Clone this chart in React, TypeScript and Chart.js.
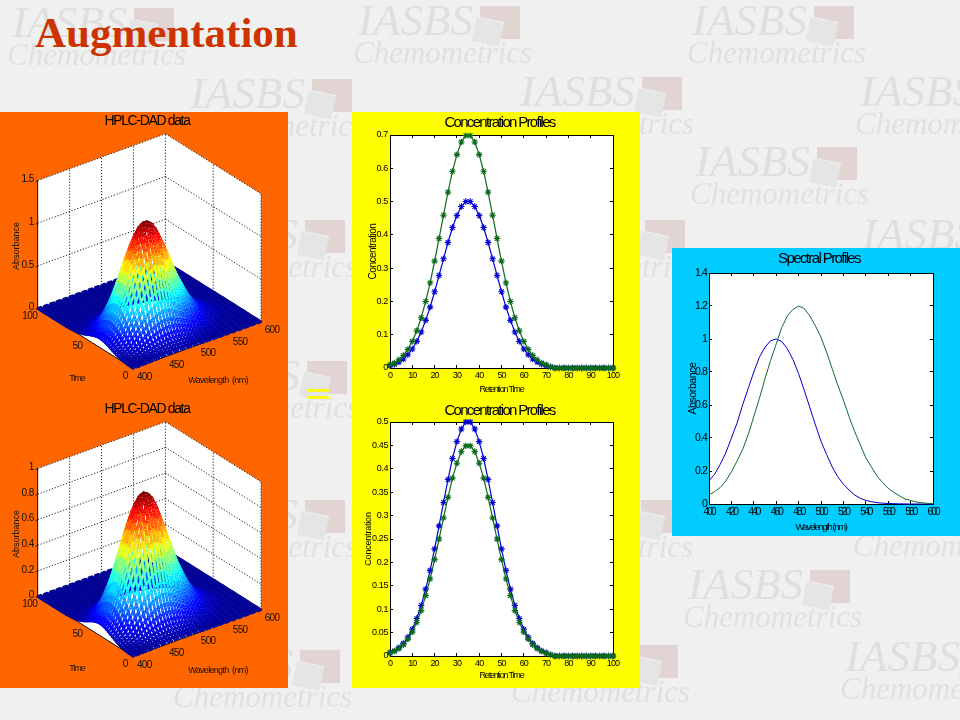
import React, { useEffect, useRef } from "react";
import { Chart, registerables } from "chart.js";

Chart.register(...registerables);

const SANS = '"Liberation Sans", Arial, sans-serif';
const SERIF = '"Liberation Serif", "Times New Roman", serif';

const retentionTimes = [0,2,4,6,8,10,12,14,16,18,20,22,24,26,28,30,32,34,36,38,40,42,44,46,48,50,52,54,56,58,60,62,64,66,68,70,72,74,76,78,80,82,84,86,88,90,92,94,96,98,100];
const wavelengths = [400,405,410,415,420,425,430,435,440,445,450,455,460,465,470,475,480,485,490,495,500,505,510,515,520,525,530,535,540,545,550,555,560,565,570,575,580,585,590,595,600];

const concBlue = [.007,.011,.018,.027,.040,.057,.080,.108,.143,.183,.229,.278,.328,.377,.422,.458,.485,.5,.5,.485,.458,.422,.377,.328,.278,.229,.183,.143,.108,.080,.057,.040,.027,.018,.011,.007,.003,0,0,0,0,0,0,0,0,0,0,0,0,0,0];
const concGreenTop = [.010,.015,.025,.038,.056,.080,.112,.151,.200,.256,.321,.389,.459,.528,.591,.641,.679,.698,.698,.679,.641,.591,.528,.459,.389,.321,.256,.200,.151,.112,.080,.056,.038,.025,.015,.010,.004,0,0,0,0,0,0,0,0,0,0,0,0,0,0];
const concGreenBottom = [.006,.010,.016,.024,.036,.051,.072,.097,.129,.165,.206,.250,.295,.339,.380,.412,.437,.449,.449,.437,.412,.380,.339,.295,.250,.206,.165,.129,.097,.072,.051,.036,.024,.016,.010,.006,.003,0,0,0,0,0,0,0,0,0,0,0,0,0,0];

const specBlue = [.14,.18,.24,.31,.40,.49,.60,.70,.80,.89,.95,.99,1,.985,.94,.875,.79,.69,.585,.48,.38,.30,.225,.165,.12,.085,.055,.035,.022,.014,.008,.005,.003,.002,.001,.0005,0,0,0,0,0];
const specGreen = [.055,.075,.10,.14,.195,.26,.33,.42,.53,.64,.76,.87,.97,1.07,1.14,1.18,1.2,1.185,1.14,1.08,1.01,.92,.82,.72,.63,.53,.44,.36,.28,.225,.17,.13,.095,.07,.05,.03,.022,.012,.008,.004,.002];

const concTicksX = [0,10,20,30,40,50,60,70,80,90,100];
const concTicksTop = [0,.1,.2,.3,.4,.5,.6,.7];
const concTicksBottom = [0,.05,.1,.15,.2,.25,.3,.35,.4,.45,.5];
const specTicksX = [400,420,440,460,480,500,520,540,560,580,600];
const specTicksY = [0,.2,.4,.6,.8,1,1.2,1.4];

const timeTicks = [0,50,100];
const waveTicks = [400,450,500,550,600];
const zTicksTop = [0,.5,1,1.5];
const zTicksBottom = [0,.2,.4,.6,.8,1];

const watermarks = [
  [12,36],[358,34],[692,34],[190,107],[520,105],[860,105],[695,175],
  [183,248],[523,248],[862,248],[185,389],[183,528],[519,528],[858,527],
  [688,598],[178,678],[516,673],[845,670],
];

const BLUE = "#0000d0";
const GREEN = "#0b6b1b";

function tighten(obj: any, method: string, px: number, ctx: any, shift = 0) {
  const f = obj[method];
  obj[method] = function (...a: any[]) {
    ctx.save();
    ctx.translate(shift, 0);
    ctx.letterSpacing = px + "px";
    f.apply(this, a);
    ctx.letterSpacing = "0px";
    ctx.restore();
  };
}

const whitePlot = {
  id: "whitePlot",
  beforeDraw(chart: any) {
    const { left, top, width, height } = chart.chartArea;
    chart.ctx.fillStyle = "#fff";
    chart.ctx.fillRect(left, top, width, height);
  },
};

function axisBase(ticks: number[], min: number, max: number, position: string, size: number, font: number, text?: string, titleFont?: number, titlePad?: any, hidden?: boolean) {
  const horizontal = position === "bottom" || position === "top";
  return {
    type: "linear",
    position,
    min,
    max,
    afterBuildTicks: (s: any) => { s.ticks = ticks.map((value) => ({ value })); },
    afterFit: (s: any) => { if (horizontal) s.height = size; else s.width = size; },
    grid: { drawOnChartArea: false, drawTicks: true, tickLength: -3, tickColor: "#000", tickWidth: 1 },
    border: { display: true, color: "#000", width: 1 },
    ticks: {
      display: !hidden,
      padding: 5,
      autoSkip: false,
      maxRotation: 0,
      minRotation: 0,
      color: "#000",
      font: { family: SANS, size: font },
      callback: (v: any) => String(Math.round(v * 100) / 100),
    },
    title: text
      ? { display: true, text, color: "#000", font: { family: SANS, size: titleFont }, padding: titlePad }
      : { display: false },
  };
}

function makeProfile(canvas: HTMLCanvasElement, o: any) {
  const plot = o.plot;
  const chart: any = new Chart(canvas, {
    type: "scatter",
    data: { datasets: o.datasets },
    options: {
      animation: false,
      responsive: false,
      devicePixelRatio: 1,
      events: [],
      layout: { padding: 0 },
      plugins: {
        legend: { display: false },
        tooltip: { enabled: false },
        title: {
          display: true,
          text: o.title,
          color: "#000",
          fullSize: false,
          font: { family: SANS, size: 15, weight: "normal", lineHeight: 1 },
          padding: { top: 3, bottom: 1 },
        },
      },
      scales: {
        x: axisBase(o.xTicks, o.xTicks[0], o.xTicks[o.xTicks.length - 1], "bottom", 288 - plot.bottom, o.tickFont, o.xTitle, o.xTitleFont, { top: 0, bottom: o.xTitleBottom }),
        y: axisBase(o.yTicks, o.yTicks[0], o.yTicks[o.yTicks.length - 1], "left", plot.left, o.tickFont, o.yTitle, o.yTitleFont, { top: o.yTitleTop, bottom: 0 }),
        x2: axisBase(o.xTicks, o.xTicks[0], o.xTicks[o.xTicks.length - 1], "top", plot.top - 19, o.tickFont, undefined, undefined, undefined, true),
        y2: axisBase(o.yTicks, o.yTicks[0], o.yTicks[o.yTicks.length - 1], "right", 288 - plot.right, o.tickFont, undefined, undefined, undefined, true),
      },
    } as any,
    plugins: [whitePlot],
  });
  const ctx = chart.ctx;
  tighten(chart.titleBlock, "draw", o.headSpacing, ctx, -2);
  tighten(chart.scales.x, "drawTitle", o.xTitleSpacing, ctx);
  tighten(chart.scales.y, "drawTitle", o.yTitleSpacing, ctx);
  tighten(chart.scales.x, "drawLabels", o.xTickSpacing, ctx);
  tighten(chart.scales.y, "drawLabels", o.yTickSpacing, ctx);
  chart.draw();
  return chart;
}

function xy(xs: number[], ys: number[]) {
  return xs.map((x, i) => ({ x, y: ys[i] }));
}

function concDataset(ys: number[], color: string) {
  return {
    data: xy(retentionTimes, ys),
    showLine: true,
    borderColor: color,
    borderWidth: 1.2,
    pointStyle: "star",
    pointRadius: 3.2,
    pointBorderColor: color,
    pointBorderWidth: 1.1,
    clip: false,
  };
}

function specDataset(ys: number[], color: string) {
  return { data: xy(wavelengths, ys), showLine: true, borderColor: color, borderWidth: 1, pointRadius: 0, clip: false };
}

function jet(v: number) {
  const c = (x: number) => Math.round(255 * Math.max(0, Math.min(1, x)));
  const r = 1.5 - Math.abs(4 * v - 3);
  const g = 1.5 - Math.abs(4 * v - 2);
  const b = 1.5 - Math.abs(4 * v - 1);
  return `rgb(${c(r)},${c(g)},${c(b)})`;
}

const floorGeometry = { front: { x: 133.3, y: 256.5 }, left: { x: 37.7, y: 196.5 }, right: { x: 261, y: 209.8 } };

function makeSurface(canvas: HTMLCanvasElement, o: any) {
  const { front, left, right } = floorGeometry;
  const zMax = o.zTicks[o.zTicks.length - 1];
  const zScale = o.wallHeight / zMax;
  const P = (t: number, w: number, z: number) => {
    const u = t / 100;
    const v = (w - 400) / 200;
    return {
      x: front.x + u * (left.x - front.x) + v * (right.x - front.x),
      y: front.y + u * (left.y - front.y) + v * (right.y - front.y) - z * zScale,
    };
  };
  const Z = retentionTimes.map((_, i) => wavelengths.map((_, j) => concBlue[i] * specBlue[j] + o.concGreen[i] * specGreen[j]));
  const peak = Math.max(...Z.map((r) => Math.max(...r)));
  const n = retentionTimes.length;

  const datasets: any[] = [];
  for (let i = 0; i < n; i++) {
    if (i < n - 1) {
      const pts: any[] = [];
      const zs: number[] = [];
      const rs: number[] = [];
      let near = false;
      for (let j = wavelengths.length - 1; j >= 0; j--) {
        const a = near ? i : i + 1;
        const b = near ? i + 1 : i;
        const r = Math.max(0, Z[i + 1][j] - Z[i][j]) / peak;
        pts.push(P(retentionTimes[a], wavelengths[j], Z[a][j]));
        zs.push(Z[a][j]);
        rs.push(r);
        pts.push(P(retentionTimes[b], wavelengths[j], Z[b][j]));
        zs.push(Z[b][j]);
        rs.push(r);
        near = !near;
      }
      datasets.push({
        data: pts,
        showLine: true,
        pointRadius: 0,
        borderWidth: 2.6,
        borderCapStyle: "round",
        borderJoinStyle: "round",
        clip: false,
        order: 2 * i + 1,
        segment: { borderColor: (c: any) => jet((zs[c.p0DataIndex] + zs[c.p1DataIndex]) / 2 / peak * 0.98 + 0.02) },
      });
      // speckled white mesh over the same cells
      datasets.push({
        data: pts,
        showLine: true,
        pointRadius: 0,
        borderWidth: 0.7,
        borderColor: "rgba(255,255,255,0.2)",
        borderDash: [1, 2.2],
        clip: false,
        order: 2 * i + 0.5,
        segment: { borderColor: (c: any) => `rgba(255,255,255,${Math.min(0.75, 0.14 + rs[c.p0DataIndex] * 12)})` },
      });
    }
    // rows: thin arcs, solid and whiter where the surface rises towards the viewer
    const rise = wavelengths.map((_, j) => Math.max(0, (i < n - 1 ? Z[i + 1][j] - Z[i][j] : 0)) / peak);
    const row = wavelengths.map((w, j) => P(retentionTimes[i], w, Z[i][j]));
    datasets.push({
      data: row,
      showLine: true,
      pointRadius: 0,
      borderColor: "rgba(255,255,255,0.2)",
      borderWidth: 0.7,
      clip: false,
      order: 2 * i,
      segment: {
        borderColor: (c: any) => {
          const s = (rise[c.p0DataIndex] + rise[c.p1DataIndex]) / 2;
          return `rgba(255,255,255,${Math.min(0.9, 0.12 + s * 9)})`;
        },
        borderDash: (c: any) => (rise[c.p0DataIndex] > 0.035 ? [] : [1, 2.2]),
      },
    });
  }

  const line = (a: any, b: any, dotted: boolean, order: number) => ({
    data: [a, b],
    showLine: true,
    pointRadius: 0,
    borderColor: dotted ? "#222" : "#111",
    borderWidth: 1,
    borderDash: dotted ? [1.2, 1.8] : [],
    clip: false,
    order,
  });
  for (const z of o.zTicks) {
    datasets.push(line(P(100, 400, z), P(100, 600, z), true, 1000));
    datasets.push(line(P(100, 600, z), P(0, 600, z), true, 1000));
    datasets.push(line(P(100, 400, z), { x: P(100, 400, z).x - 2, y: P(100, 400, z).y + 1 }, false, 1000));
  }
  for (const w of waveTicks.slice(1, -1)) datasets.push(line(P(100, w, 0), P(100, w, zMax), true, 1000));
  for (const t of timeTicks) datasets.push(line(P(t, 600, 0), P(t, 600, zMax), true, 1000));
  datasets.push(line(P(100, 400, 0), P(100, 400, zMax), false, 1000));
  datasets.push(line(P(100, 400, 0), P(0, 400, 0), false, 1000));
  datasets.push(line(P(0, 400, 0), P(0, 600, 0), false, 1000));

  const wallsTop = [P(100, 400, zMax), P(100, 600, zMax), P(0, 600, zMax)];
  const wallsBottom = [P(100, 400, 0), P(0, 400, 0), P(0, 600, 0)];
  datasets.push({ data: wallsTop, showLine: true, borderWidth: 0, borderColor: "rgba(0,0,0,0)", pointRadius: 0, fill: "+1", backgroundColor: "#fff", order: 2000, clip: false });
  datasets.push({ data: wallsBottom, showLine: true, borderWidth: 0, borderColor: "rgba(0,0,0,0)", pointRadius: 0, fill: false, order: 2001, clip: false });

  const labels = {
    id: "axisLabels",
    afterDraw(chart: any) {
      const ctx = chart.ctx;
      const put = (text: string, x: number, y: number, align: any, spacing: number, size: number, rot = 0) => {
        ctx.save();
        ctx.translate(x, y);
        ctx.rotate(rot);
        ctx.font = `${size}px ${SANS}`;
        ctx.fillStyle = "#111";
        ctx.textAlign = align;
        ctx.textBaseline = "middle";
        ctx.letterSpacing = spacing + "px";
        ctx.fillText(text, 0, 0);
        ctx.restore();
      };
      for (const z of o.zTicks) {
        const p = P(100, 400, z);
        put(String(z), p.x - 4, p.y - 1, "right", -0.6, 10);
      }
      for (const t of timeTicks) {
        const p = P(t, 400, 0);
        put(String(t), p.x - 8, p.y + 7.5, "center", -0.6, 10);
      }
      for (const w of waveTicks) {
        const p = P(0, w, 0);
        put(String(w), p.x + 11, p.y + 8.5, "center", -0.7, 10);
      }
      put("Time", 77, o.labelY, "center", -1, 9);
      put("Wavelength  (nm)", 218, o.labelY + 2, "center", -0.7, 9);
      put("Absorbance", 16.5, 134, "center", 0, 9, -Math.PI / 2);
    },
  };

  const chart: any = new Chart(canvas, {
    type: "scatter",
    data: { datasets },
    options: {
      animation: false,
      responsive: false,
      devicePixelRatio: 1,
      events: [],
      layout: { padding: 0 },
      plugins: {
        legend: { display: false },
        tooltip: { enabled: false },
        filler: { propagate: false },
        title: {
          display: true,
          text: "HPLC-DAD data",
          color: "#000",
          font: { family: SANS, size: 14, weight: "normal", lineHeight: 1 },
          padding: { top: 2, bottom: 0 },
        },
      },
      scales: {
        x: { type: "linear", display: false, min: 0, max: 288 },
        y: { type: "linear", display: false, reverse: true, min: 16, max: 288 },
      },
    } as any,
    plugins: [labels],
  });
  tighten(chart.titleBlock, "draw", -1.35, chart.ctx, 3);
  chart.draw();
  return chart;
}

function Watermark({ x, y }: { x: number; y: number }) {
  return (
    <>
      <span style={{ position: "absolute", left: x, top: y - 40, lineHeight: "50px", font: `italic 45px ${SERIF}`, color: "#dfdfdf", whiteSpace: "nowrap", filter: "blur(0.5px)" }}>IASBS</span>
      <span style={{ position: "absolute", left: x - 5, top: y + 1, lineHeight: "35px", font: `italic 31px ${SERIF}`, color: "#e0e0e0", whiteSpace: "nowrap", filter: "blur(0.5px)" }}>Chemometrics</span>
      <div style={{ position: "absolute", left: x + 122, top: y - 28, width: 40, height: 33, background: "#e2d4d2", filter: "blur(0.5px)" }} />
      <div style={{ position: "absolute", left: x + 116, top: y - 15, width: 28, height: 24, background: "#e5e5e5", borderTop: "1px solid #efefef", transform: "rotate(12deg)", filter: "blur(0.5px)" }} />
    </>
  );
}

export default function App() {
  const a = useRef<HTMLCanvasElement>(null);
  const b = useRef<HTMLCanvasElement>(null);
  const c = useRef<HTMLCanvasElement>(null);
  const d = useRef<HTMLCanvasElement>(null);
  const e = useRef<HTMLCanvasElement>(null);

  useEffect(() => {
    const charts = [
      makeSurface(a.current!, { concGreen: concGreenTop, zTicks: zTicksTop, wallHeight: 128, labelY: 267 }),
      makeSurface(b.current!, { concGreen: concGreenBottom, zTicks: zTicksBottom, wallHeight: 128, labelY: 269 }),
      makeProfile(c.current!, {
        title: "Concentration Profiles", headSpacing: -1.7,
        plot: { left: 38, right: 261, top: 23, bottom: 256 },
        xTicks: concTicksX, yTicks: concTicksTop, tickFont: 9, xTickSpacing: -0.9, yTickSpacing: -0.3,
        xTitle: "Retention Time", xTitleFont: 9, xTitleSpacing: -1.2, xTitleBottom: 5,
        yTitle: "Concentration", yTitleFont: 10, yTitleSpacing: -0.5, yTitleTop: 15,
        datasets: [concDataset(concGreenTop, GREEN), concDataset(concBlue, BLUE)],
      }),
      makeProfile(d.current!, {
        title: "Concentration Profiles", headSpacing: -1.7,
        plot: { left: 38, right: 261, top: 22, bottom: 256 },
        xTicks: concTicksX, yTicks: concTicksBottom, tickFont: 9, xTickSpacing: -0.9, yTickSpacing: -0.4,
        xTitle: "Retention Time", xTitleFont: 9, xTitleSpacing: -1.2, xTitleBottom: 7,
        yTitle: "Concentration", yTitleFont: 9, yTitleSpacing: -0.2, yTitleTop: 11,
        datasets: [concDataset(concGreenBottom, GREEN), concDataset(concBlue, BLUE)],
      }),
      makeProfile(e.current!, {
        title: "Spectral Profiles", headSpacing: -1.6,
        plot: { left: 37, right: 261, top: 25, bottom: 256 },
        xTicks: specTicksX, yTicks: specTicksY, tickFont: 10.5, xTickSpacing: -2.2, yTickSpacing: -0.9,
        xTitle: "Wavelength (nm)", xTitleFont: 9.5, xTitleSpacing: -1.4, xTitleBottom: 3,
        yTitle: "Absorbance", yTitleFont: 10.5, yTitleSpacing: -0.4, yTitleTop: 15,
        datasets: [specDataset(specGreen, "#146a2a"), specDataset(specBlue, BLUE)],
      }),
    ];
    return () => charts.forEach((ch) => ch.destroy());
  }, []);

  const canvasAt = (ref: any, left: number, top: number) => (
    <canvas ref={ref} width={288} height={288} style={{ position: "absolute", left, top, width: 288, height: 288, display: "block" }} />
  );

  return (
    <div style={{ position: "absolute", left: 0, top: 0, width: 960, height: 720, overflow: "hidden", background: "#f0f0f0", filter: "blur(0.3px)" }}>
      {watermarks.map(([x, y], i) => <Watermark key={i} x={x} y={y} />)}
      <span style={{ position: "absolute", left: 35, top: 8, lineHeight: "50px", font: `bold 43px ${SERIF}`, color: "#cc3300", whiteSpace: "nowrap" }}>Augmentation</span>
      <div style={{ position: "absolute", left: 0, top: 112, width: 288, height: 576, background: "#ff6600" }} />
      <div style={{ position: "absolute", left: 352, top: 112, width: 288, height: 576, background: "#ffff00" }} />
      <div style={{ position: "absolute", left: 672, top: 248, width: 288, height: 288, background: "#00ccff" }} />
      {canvasAt(a, 0, 112)}
      {canvasAt(b, 0, 400)}
      {canvasAt(c, 352, 112)}
      {canvasAt(d, 352, 400)}
      {canvasAt(e, 672, 248)}
      <span style={{ position: "absolute", left: 306, top: 371, lineHeight: "50px", font: `bold 42px ${SANS}`, color: "#ffff00", transform: "scaleY(0.6)" }}>=</span>
    </div>
  );
}
